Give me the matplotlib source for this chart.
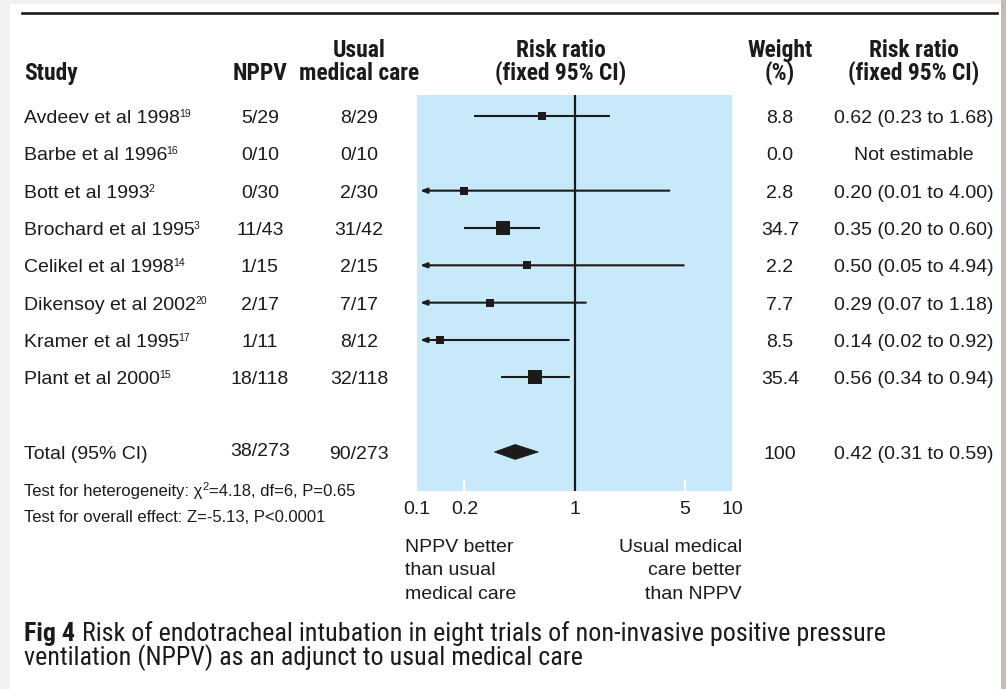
import os
import re
import matplotlib
matplotlib.use("Agg")
import matplotlib.pyplot as plt
import numpy as np
from matplotlib import transforms
from matplotlib import font_manager as fm
from matplotlib.font_manager import FontProperties
from matplotlib.textpath import TextPath
from matplotlib.lines import Line2D
from matplotlib.patches import Rectangle, Polygon
from matplotlib.ticker import NullLocator

# ---------------- data ----------------
studies = ["Avdeev et al 1998", "Barbe et al 1996", "Bott et al 1993",
           "Brochard et al 1995", "Celikel et al 1998", "Dikensoy et al 2002",
           "Kramer et al 1995", "Plant et al 2000"]
refs = ["19", "16", "2", "3", "14", "20", "17", "15"]
nppv = ["5/29", "0/10", "0/30", "11/43", "1/15", "2/17", "1/11", "18/118"]
usual = ["8/29", "0/10", "2/30", "31/42", "2/15", "7/17", "8/12", "32/118"]
weights = [8.8, 0.0, 2.8, 34.7, 2.2, 7.7, 8.5, 35.4]
rr = [0.62, None, 0.20, 0.35, 0.50, 0.29, 0.14, 0.56]
rr_lo = [0.23, None, 0.01, 0.20, 0.05, 0.07, 0.02, 0.34]
rr_hi = [1.68, None, 4.00, 0.60, 4.94, 1.18, 0.92, 0.94]

total_label = "Total (95% CI)"
total_nppv = "38/273"
total_usual = "90/273"
total_weight = "100"
total_rr, total_lo, total_hi = 0.42, 0.31, 0.59

xticks = [0.1, 0.2, 1, 5, 10]
xticklabels = ["0.1", "0.2", "1", "5", "10"]

heterogeneity = ("Test for heterogeneity: \u03c7", "2", "=4.18, df=6, P=0.65")
overall = "Test for overall effect: Z=-5.13, P<0.0001"
favours_left = ["NPPV better", "than usual", "medical care"]
favours_right = ["Usual medical", "care better", "than NPPV"]
caption_bold = "Fig 4"
caption_lines = ["Risk of endotracheal intubation in eight trials of non-invasive positive pressure",
                 "ventilation (NPPV) as an adjunct to usual medical care"]

# ---------------- fonts ----------------
_font_files = [f.fname for f in fm.fontManager.ttflist]


def _key(path):
    return re.sub(r"[^a-z]", "", os.path.basename(path).lower())


def pick_face(patterns, family, weight):
    """First installed face whose file name matches one of the patterns."""
    for p in patterns:
        for fn in _font_files:
            if _key(fn) in (p + "ttf", p + "otf"):
                return FontProperties(fname=fn)
    return FontProperties(family=family, weight=weight)


COND_BOLD = pick_face(["liberationsansnarrowbold", "robotocondensedbold",
                       "dejavusanscondensedbold", "notosanscondensedbold",
                       "opensanscondensedbold", "opensanscondbold", "arialnarrowbold"],
                      "Liberation Sans", "bold")
COND_REG = pick_face(["liberationsansnarrowregular", "liberationsansnarrow",
                      "robotocondensedregular", "dejavusanscondensed",
                      "notosanscondensed", "opensanscondensedregular",
                      "opensanscondlight", "arialnarrow"],
                     "Liberation Sans", "normal")

DPI = 100


def fit_size(fp, text, target_px, max_pt):
    """Font size (pt) that gives `text` the wanted width in pixels."""
    ref = 20.0
    w_pt = TextPath((0, 0), text, size=ref, prop=fp).get_extents().width
    return min(max_pt, ref * target_px / (w_pt * DPI / 72.0))


HEAD = fit_size(COND_BOLD, "(fixed 95% CI)", 129, 17)
CAP = fit_size(COND_REG, caption_lines[1], 557, 20)

# ---------------- layout ----------------
W, H = 1006, 689
fig = plt.figure(figsize=(W / DPI, H / DPI), dpi=DPI, facecolor="#f3f0ed")


def fx(px):
    return px / W


def fy(py):
    return 1 - py / H


REG = ["Liberation Sans", "DejaVu Sans"]
INK = "#1c1a1b"
BLUE = "#c8e9fa"
BODY = 14

# page
fig.patches.append(Rectangle((fx(10), 0), fx(991), fy(4), transform=fig.transFigure,
                             facecolor="white", edgecolor="none", zorder=-2))
fig.patches.append(Rectangle((fx(1001), 0), fx(5), 1, transform=fig.transFigure,
                             facecolor="#c4bcb7", edgecolor="none", zorder=-2))
fig.add_artist(Line2D([fx(22), fx(997)], [fy(13), fy(13)], transform=fig.transFigure,
                      color=INK, lw=1.9))

# forest plot panel
row0_px, row_step = 116, 37.33
top_px, bot_px = 95, 491
ax = fig.add_axes([fx(417), fy(bot_px), fx(315), (bot_px - top_px) / H])
ax.set_xscale("log")
ax.set_xlim(xticks[0], xticks[-1])
ax.set_ylim((bot_px - row0_px) / row_step, (top_px - row0_px) / row_step)
ax.set_facecolor(BLUE)
for s in ax.spines.values():
    s.set_visible(False)
ax.set_yticks([])
ax.set_xticks(xticks)
ax.set_xticklabels(xticklabels)
ax.xaxis.set_minor_locator(NullLocator())
ax.tick_params(axis="x", direction="in", length=8, width=1.6, color="white",
               pad=7.5, labelsize=BODY, labelcolor=INK)
for lab in ax.get_xticklabels():
    lab.set_family(REG)
for tk, loc in zip(ax.xaxis.get_major_ticks(), xticks):
    if loc not in (0.2, 5):
        tk.tick1line.set_visible(False)

ax.axvline(1, color=INK, lw=1.6, zorder=2)

y_rows = np.arange(len(studies))
y_total = len(studies) + 1
x_min = ax.get_xlim()[0]

for i, y in enumerate(y_rows):
    if rr[i] is None:
        continue
    if rr_lo[i] < x_min:
        # interval runs off the scale: end it with a small arrowhead
        ax.annotate("", xy=(x_min * 1.045, y), xytext=(rr_hi[i], y),
                    arrowprops=dict(arrowstyle="-|>,head_length=0.4,head_width=0.15",
                                    color=INK, lw=1.5, shrinkA=0, shrinkB=0,
                                    mutation_scale=10), zorder=3)
    else:
        ax.plot([rr_lo[i], rr_hi[i]], [y, y], color=INK, lw=1.5,
                solid_capstyle="butt", zorder=3)
    side_px = max(8.0, 14.0 * np.sqrt(weights[i] / 35.0))
    ax.plot(rr[i], y, marker="s", ms=side_px * 72 / DPI, mfc=INK, mec=INK,
            mew=0, zorder=4)

dh = 7.5 / row_step
ax.add_patch(Polygon([(total_lo, y_total), (total_rr, y_total - dh),
                      (total_hi, y_total), (total_rr, y_total + dh)],
                     closed=True, facecolor=INK, edgecolor=INK, lw=0.5, zorder=4))

# ---------------- table text ----------------
row_tr = transforms.offset_copy(
    transforms.blended_transform_factory(fig.transFigure, ax.transData),
    fig=fig, y=-7, units="dots")

col_study, col_nppv, col_usual, col_weight, col_rr = 24, 260, 359, 780, 914
body_kw = dict(fontsize=BODY, family=REG, color=INK, va="baseline", transform=row_tr)

for i, y in enumerate(y_rows):
    t = fig.text(fx(col_study), y, studies[i], ha="left", **body_kw)
    ax.annotate(refs[i], xy=(1, 1), xycoords=t, xytext=(-0.6, 0.8),
                textcoords="offset points", ha="left", va="top",
                fontsize=7.5, family=REG, color=INK)
    fig.text(fx(col_nppv), y, nppv[i], ha="center", **body_kw)
    fig.text(fx(col_usual), y, usual[i], ha="center", **body_kw)
    fig.text(fx(col_weight), y, f"{weights[i]:.1f}", ha="center", **body_kw)
    if rr[i] is None:
        txt = "Not estimable"
    else:
        txt = f"{rr[i]:.2f} ({rr_lo[i]:.2f} to {rr_hi[i]:.2f})"
    fig.text(fx(col_rr), y, txt, ha="center", **body_kw)

fig.text(fx(col_study), y_total, total_label, ha="left", **body_kw)
fig.text(fx(col_nppv), y_total - 0.07, total_nppv, ha="center", **body_kw)
fig.text(fx(col_usual), y_total, total_usual, ha="center", **body_kw)
fig.text(fx(col_weight), y_total, total_weight, ha="center", **body_kw)
fig.text(fx(col_rr), y_total, f"{total_rr:.2f} ({total_lo:.2f} to {total_hi:.2f})",
         ha="center", **body_kw)

# headers
head_kw = dict(fontproperties=COND_BOLD, fontsize=HEAD, color=INK,
               va="baseline", transform=fig.transFigure)
fig.text(fx(col_study), fy(80), "Study", ha="left", **head_kw)
fig.text(fx(col_nppv), fy(80), "NPPV", ha="center", **head_kw)
fig.text(fx(col_usual), fy(57), "Usual", ha="center", **head_kw)
fig.text(fx(col_usual), fy(80), "medical care", ha="center", **head_kw)
fig.text(fx(561), fy(57), "Risk ratio", ha="center", **head_kw)
fig.text(fx(561), fy(80), "(fixed 95% CI)", ha="center", **head_kw)
fig.text(fx(col_weight), fy(57), "Weight", ha="center", **head_kw)
fig.text(fx(col_weight), fy(80), "(%)", ha="center", **head_kw)
fig.text(fx(col_rr), fy(57), "Risk ratio", ha="center", **head_kw)
fig.text(fx(col_rr), fy(80), "(fixed 95% CI)", ha="center", **head_kw)

# footnotes
foot_kw = dict(fontsize=12, family=REG, color=INK)
h1 = fig.text(fx(col_study), fy(496), heterogeneity[0], ha="left", va="baseline",
              transform=fig.transFigure, **foot_kw)
h2 = ax.annotate(heterogeneity[1], xy=(1, 1), xycoords=h1, xytext=(0.3, 1.5),
                 textcoords="offset points", ha="left", va="top",
                 fontsize=8, family=REG, color=INK)
ax.annotate(heterogeneity[2], xy=(1, 0), xycoords=(h2, h1), xytext=(0.3, 0),
            textcoords="offset points", ha="left", va="bottom", **foot_kw)
fig.text(fx(col_study), fy(522), overall, ha="left", va="baseline",
         transform=fig.transFigure, **foot_kw)

# favours labels
for k, (ltxt, rtxt) in enumerate(zip(favours_left, favours_right)):
    yb = fy(552 + 23.3 * k)
    fig.text(fx(405), yb, ltxt, ha="left", va="baseline", fontsize=BODY,
             family=REG, color=INK, transform=fig.transFigure)
    fig.text(fx(742), yb, rtxt, ha="right", va="baseline", fontsize=BODY,
             family=REG, color=INK, transform=fig.transFigure)

# caption
cap_bold = COND_BOLD.copy()
cap_bold.set_size(CAP)
cap_reg = COND_REG.copy()
cap_reg.set_size(CAP)
cap = fig.text(fx(24), fy(641), caption_bold, ha="left", va="baseline",
               fontproperties=cap_bold, color=INK, transform=fig.transFigure)
ax.annotate(caption_lines[0], xy=(1, 0), xycoords=cap, xytext=(5, 0),
            textcoords="offset points", ha="left", va="bottom",
            fontproperties=cap_reg, color=INK)
fig.text(fx(24), fy(665), caption_lines[1], ha="left", va="baseline",
         fontproperties=cap_reg, color=INK, transform=fig.transFigure)

fig.savefig("out.png", dpi=DPI, facecolor=fig.get_facecolor())
